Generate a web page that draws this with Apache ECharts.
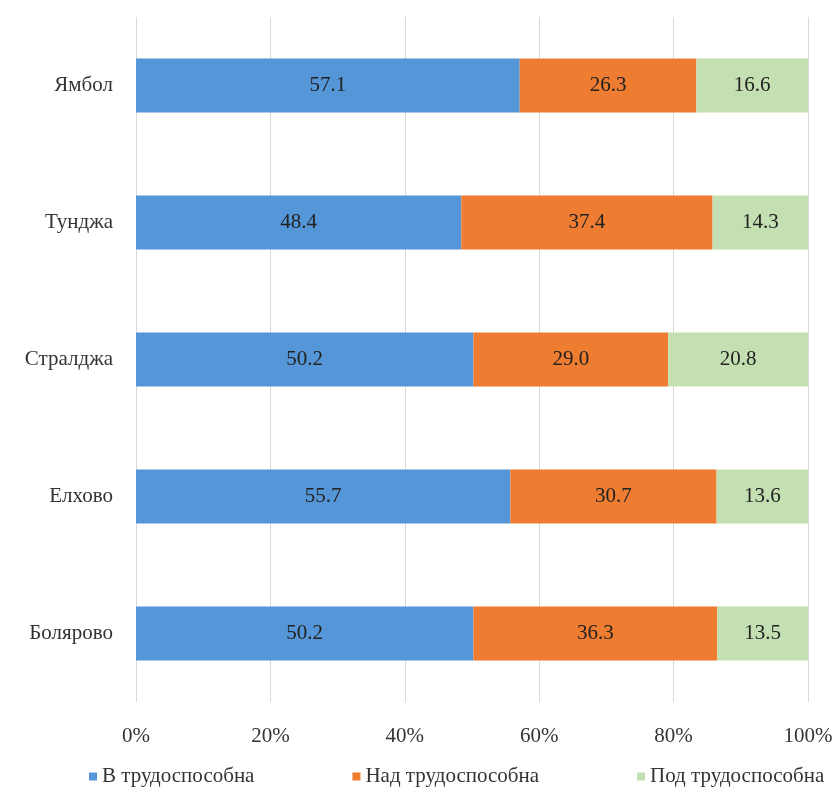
<!DOCTYPE html>
<html lang="bg">
<head>
    <meta charset="UTF-8">
    <title>Възрастова структура</title>
    <style>
        * { margin: 0; padding: 0; box-sizing: border-box; }
        body { background: #fff; }
        .chart { width: 840px; height: 792px; }
    </style>
</head>
<body>
<div class="chart" id="chart"></div>

<script src="https://cdn.jsdelivr.net/npm/echarts@6.0.0/dist/echarts.min.js"></script>
<script>
    const categories = ['Болярово', 'Елхово', 'Стралджа', 'Тунджа', 'Ямбол']
    const vTrud = [50.2, 55.7, 50.2, 48.4, 57.1]
    const nadTrud = [36.3, 30.7, 29.0, 37.4, 26.3]
    const podTrud = [13.5, 13.6, 20.8, 14.3, 16.6]
    const seriesNames = ['В трудоспособна', 'Над трудоспособна', 'Под трудоспособна']

    const font = '"Liberation Serif", "DejaVu Serif", serif'
    const colors = ['#5596d8', '#ee7d31', '#c4e0b2']

    const chart = echarts.init(document.getElementById('chart'))

    const mk = (name, data, color) => ({
        name: name,
        type: 'bar',
        stack: 'total',
        data: data,
        barWidth: 54,
        itemStyle: { color: color },
        label: {
            show: true,
            position: 'inside',
            fontFamily: font,
            fontSize: 21,
            color: '#222',
            formatter: p => p.value.toFixed(1)
        }
    })

    chart.setOption({
        animation: false,
        textStyle: { fontFamily: font },
        grid: { left: 136, right: 32, top: 17, bottom: 90, containLabel: false },
        legend: {
            bottom: 0,
            left: 84,
            itemWidth: 8,
            itemHeight: 8,
            itemGap: 98,
            icon: 'rect',
            textStyle: { fontFamily: font, fontSize: 21, color: '#333' }
        },
        xAxis: {
            type: 'value',
            min: 0,
            max: 100,
            interval: 20,
            axisLabel: {
                formatter: '{value}%',
                fontFamily: font,
                fontSize: 21,
                color: '#333',
                margin: 24
            },
            axisLine: { show: false },
            axisTick: { show: false },
            splitLine: { show: true, lineStyle: { color: '#d9d9d9', width: 1 } }
        },
        yAxis: {
            type: 'category',
            data: categories,
            axisLine: { show: false },
            axisTick: { show: false },
            axisLabel: {
                fontFamily: font,
                fontSize: 21,
                color: '#333',
                margin: 23
            }
        },
        series: [
            mk(seriesNames[0], vTrud, colors[0]),
            mk(seriesNames[1], nadTrud, colors[1]),
            mk(seriesNames[2], podTrud, colors[2])
        ]
    })
</script>
</body>
</html>
